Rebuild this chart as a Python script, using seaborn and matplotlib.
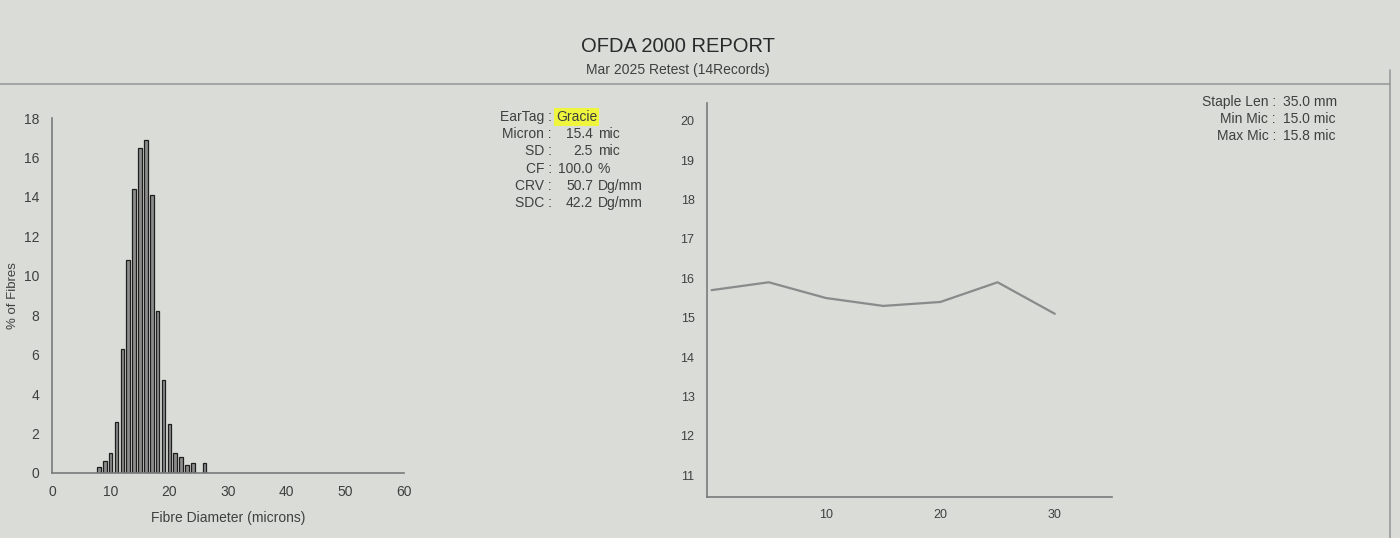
import matplotlib
matplotlib.use("Agg")
import matplotlib.pyplot as plt
import seaborn as sns
import pandas as pd
from matplotlib.lines import Line2D

# ---- data ----
diameter = [8, 9, 10, 11, 12, 13, 14, 15, 16, 17, 18, 19, 20, 21, 22, 23, 24, 26]
pct_fibres = [0.3, 0.6, 1.0, 2.6, 6.3, 10.8, 14.4, 16.5, 16.9, 14.1, 8.2, 4.7, 2.5, 1.0, 0.8, 0.4, 0.5, 0.5]
hist_xticks = [0, 10, 20, 30, 40, 50, 60]
hist_yticks = [0, 2, 4, 6, 8, 10, 12, 14, 16, 18]

position_mm = [0, 5, 10, 15, 20, 25, 30]
micron_profile = [15.7, 15.9, 15.5, 15.3, 15.4, 15.9, 15.1]
prof_xticks = [10, 20, 30]
prof_yticks = [11, 12, 13, 14, 15, 16, 17, 18, 19, 20]

ear_tag = "Gracie"
stat_labels = ["Micron", "SD", "CF", "CRV", "SDC"]
stat_numbers = ["15.4", "2.5", "100.0", "50.7", "42.2"]
stat_units = ["mic", "mic", "%", "Dg/mm", "Dg/mm"]
right_labels = ["Staple Len", "Min Mic", "Max Mic"]
right_values = ["35.0 mm", "15.0 mic", "15.8 mic"]

title = "OFDA 2000 REPORT"
subtitle = "Mar 2025 Retest (14Records)"

# ---- style ----
sns.set_style("white")
plt.rcParams['font.family'] = ['Liberation Sans', 'DejaVu Sans']
bg = "#d9dcd7"
txt = "#404040"
axc = "#7a7a7a"

W, H = 1400, 538
fig = plt.figure(figsize=(14, 5.38), dpi=100, facecolor=bg)

def fx(px):
    return px / W

def fy(py):
    return 1 - py / H

# header
fig.text(fx(678), fy(47), title, ha="center", va="center", fontsize=14.5, color="#2a2a2a")
fig.text(fx(678), fy(70), subtitle, ha="center", va="center", fontsize=10, color=txt)
fig.add_artist(Line2D([0, fx(1390)], [fy(84), fy(84)], color="#9a9a9a", lw=1.2))
fig.add_artist(Line2D([fx(1390), fx(1390)], [0, fy(70)], color="#9a9a9a", lw=1.2))

# ---- histogram ----
ax1 = fig.add_axes([fx(52), fy(473), fx(404) - fx(52), fy(118) - fy(473)], facecolor=bg)
df_h = pd.DataFrame({"d": diameter, "p": pct_fibres})
sns.barplot(data=df_h, x="d", y="p", native_scale=True, width=0.62,
            color="#8c8c8c", edgecolor="#1e1e1e", linewidth=0.9, saturation=1, ax=ax1)
ax1.set_xlim(0, 60)
ax1.set_ylim(0, 18)
ax1.set_xticks(hist_xticks)
ax1.set_yticks(hist_yticks)
ax1.set_xlabel("Fibre Diameter (microns)", fontsize=10, color=txt, labelpad=8)
ax1.set_ylabel("% of Fibres", fontsize=9.5, color=txt)
ax1.yaxis.set_label_coords((19 - 52) / 352, 0.5)
for s in ["top", "right"]:
    ax1.spines[s].set_visible(False)
for s in ["left", "bottom"]:
    ax1.spines[s].set_color(axc)
    ax1.spines[s].set_linewidth(1.2)
ax1.tick_params(axis="both", colors=axc, labelcolor=txt, labelsize=10, length=3, width=0.8,
                direction="out", pad=6)

# ---- stats text ----
y0, dy = 117, 17.2
fig.text(fx(552), fy(y0), "EarTag :", ha="right", va="center", fontsize=10, color=txt)
fig.text(fx(556), fy(y0), ear_tag, ha="left", va="center", fontsize=10, color=txt,
         bbox=dict(boxstyle="square,pad=0.12", facecolor="#eef53c", edgecolor="none"))
for i, (lab, num, unit) in enumerate(zip(stat_labels, stat_numbers, stat_units)):
    yy = fy(y0 + (i + 1) * dy)
    fig.text(fx(552), yy, lab + " :", ha="right", va="center", fontsize=10, color=txt)
    fig.text(fx(593), yy, num, ha="right", va="center", fontsize=10, color=txt)
    fig.text(fx(598), yy, unit, ha="left", va="center", fontsize=10, color=txt)

# ---- profile ----
ax2 = fig.add_axes([fx(707), fy(497), fx(1112) - fx(707), fy(103) - fy(497)], facecolor=bg)
df_p = pd.DataFrame({"pos": position_mm, "mic": micron_profile})
sns.lineplot(data=df_p, x="pos", y="mic", color="#8a8a8a", linewidth=1.6, ax=ax2)
ax2.set_xlim(-0.4, 35)
ax2.set_ylim(10.45, 20.45)
ax2.set_xticks(prof_xticks)
ax2.set_yticks(prof_yticks)
ax2.set_xlabel("")
ax2.set_ylabel("")
for s in ["top", "right"]:
    ax2.spines[s].set_visible(False)
for s in ["left", "bottom"]:
    ax2.spines[s].set_color(axc)
    ax2.spines[s].set_linewidth(1.2)
ax2.tick_params(axis="both", colors=axc, labelcolor=txt, labelsize=9, length=3, width=0.8,
                direction="out", pad=6)

# ---- right text ----
for i, (lab, val) in enumerate(zip(right_labels, right_values)):
    yy = fy(102 + i * 17)
    fig.text(fx(1276), yy, lab + " :", ha="right", va="center", fontsize=10, color=txt)
    fig.text(fx(1283), yy, val, ha="left", va="center", fontsize=10, color=txt)

fig.savefig("out.png", dpi=100, facecolor=bg)
